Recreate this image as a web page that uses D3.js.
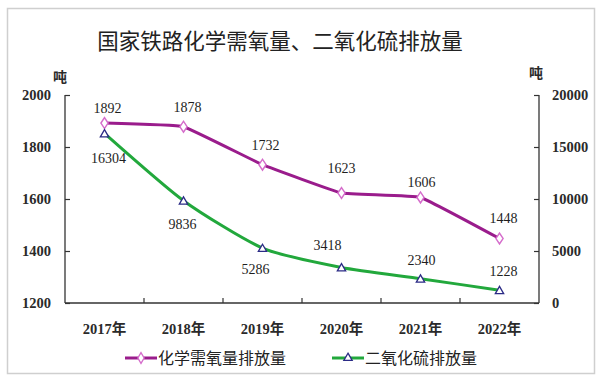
<!DOCTYPE html>
<html><head><meta charset="utf-8">
<script src="https://cdn.jsdelivr.net/npm/d3@7"></script>
<style>
html,body{margin:0;padding:0;background:#fff;}
svg{display:block;}
</style>
</head><body>
<svg id="chart" width="600" height="380"></svg>
<script>
const title = "国家铁路化学需氧量、二氧化硫排放量";
const categories = ["2017年","2018年","2019年","2020年","2021年","2022年"];
const codValues = [1892, 1878, 1732, 1623, 1606, 1448];
const so2Values = [16304, 9836, 5286, 3418, 2340, 1228];
const leftTicks = [1200, 1400, 1600, 1800, 2000];
const rightTicks = [0, 5000, 10000, 15000, 20000];
const seriesNames = ["化学需氧量排放量", "二氧化硫排放量"];
const unitLabel = "吨";
// label offsets (px) relative to each point
const codLabelOffset = [[3,-15],[4,-20],[3,-20],[0,-25],[1,-15],[4,-21]];
const so2LabelOffset = [[4,25],[-1,23],[-7,21],[-14,-22],[1,-19],[4,-19]];

const svg = d3.select("#chart");
const m = {left:65, right:539, top:95, bottom:303};

svg.append("rect").attr("x",7.5).attr("y",8.5).attr("width",587).attr("height",365)
  .attr("fill","#fff").attr("stroke","#cfcfcf").attr("stroke-width",1.5);

const x = d3.scaleBand().domain(categories).range([m.left, m.right]).padding(0);
const yL = d3.scaleLinear().domain([1200,2000]).range([m.bottom, m.top]);
const yR = d3.scaleLinear().domain([0,20000]).range([m.bottom, m.top]);

const numFont = "'Liberation Serif','Times New Roman','Noto Sans CJK SC',serif";
const cjkFont = "'Noto Sans CJK SC','Noto Sans',sans-serif";

svg.append("text").attr("x",280).attr("y",49).attr("text-anchor","middle")
  .attr("font-family",cjkFont).attr("font-size",21.5).attr("fill","#222").text(title);

const axL = d3.axisLeft(yL).tickValues(leftTicks).tickSize(-5).tickPadding(14).tickFormat(d3.format("d"));
const gL = svg.append("g").attr("transform",`translate(${m.left},0)`).call(axL);
const axR = d3.axisRight(yR).tickValues(rightTicks).tickSize(-5).tickPadding(13).tickFormat(d3.format("d"));
const gR = svg.append("g").attr("transform",`translate(${m.right},0)`).call(axR);
const axB = d3.axisBottom(x).tickValues([]).tickSizeOuter(0);
const gB = svg.append("g").attr("transform",`translate(0,${m.bottom})`).call(axB);
gB.selectAll("line.bt").data(categories.slice(1)).enter().append("line").attr("class","bt")
  .attr("x1",d=>x(d)).attr("x2",d=>x(d)).attr("y1",0).attr("y2",-5).attr("stroke","#333").attr("stroke-width",1.2);
gB.selectAll("text.cat").data(categories).enter().append("text").attr("class","cat")
  .attr("x",d=>x(d)+x.bandwidth()/2).attr("y",31).attr("text-anchor","middle")
  .attr("font-family",numFont).attr("font-size",14.5).attr("font-weight","bold").attr("fill","#2a2a2a").text(d=>d);

[gL,gR,gB].forEach(g=>{
  g.select(".domain").attr("stroke","#333").attr("stroke-width",1.3);
  g.selectAll(".tick line").attr("stroke","#333").attr("stroke-width",1.2);
  g.selectAll(".tick text").attr("font-family",numFont).attr("font-size",14.5)
    .attr("font-weight","bold").attr("fill","#2a2a2a");
});
gL.select(".domain").attr("d",`M0,${m.top}V${m.bottom}`);
gR.select(".domain").attr("d",`M0,${m.top}V${m.bottom}`);
gB.select(".domain").attr("d",`M${m.left},0H${m.right}`);

svg.append("text").attr("x",60).attr("y",82).attr("text-anchor","middle")
  .attr("font-family",cjkFont).attr("font-size",14).attr("font-weight","bold").attr("fill","#2a2a2a").text(unitLabel);
svg.append("text").attr("x",536).attr("y",78).attr("text-anchor","middle")
  .attr("font-family",cjkFont).attr("font-size",14).attr("font-weight","bold").attr("fill","#2a2a2a").text(unitLabel);

const cx = d => x(d)+x.bandwidth()/2;
const purple = "#9a1c8c", pink = "#d56ccb", green = "#22a83c", navy = "#2b2b86";

const lineCod = d3.line().x((d,i)=>cx(categories[i])).y(d=>yL(d)).curve(d3.curveCardinal.tension(0.75));
const lineSo2 = d3.line().x((d,i)=>cx(categories[i])).y(d=>yR(d)).curve(d3.curveCardinal.tension(0.35));

svg.append("path").datum(so2Values).attr("d",lineSo2).attr("fill","none").attr("stroke",green).attr("stroke-width",3);
svg.append("path").datum(codValues).attr("d",lineCod).attr("fill","none").attr("stroke",purple).attr("stroke-width",3);

const diamond = d3.symbol().type(d3.symbolDiamond).size(34);
const triangle = d3.symbol().type(d3.symbolTriangle).size(30);

svg.selectAll("path.dm").data(codValues).enter().append("path").attr("class","dm")
  .attr("d",diamond).attr("transform",(d,i)=>`translate(${cx(categories[i])},${yL(d)}) scale(1.15,1)`)
  .attr("fill","#fff").attr("stroke",pink).attr("stroke-width",1.3);
svg.selectAll("path.tr").data(so2Values).enter().append("path").attr("class","tr")
  .attr("d",triangle).attr("transform",(d,i)=>`translate(${cx(categories[i])},${yR(d)+1})`)
  .attr("fill","#fff").attr("stroke",navy).attr("stroke-width",1.3);

svg.selectAll("text.lc").data(codValues).enter().append("text").attr("class","lc")
  .attr("x",(d,i)=>cx(categories[i])+codLabelOffset[i][0]).attr("y",(d,i)=>yL(d)+codLabelOffset[i][1]+5)
  .attr("text-anchor","middle").attr("font-family",numFont).attr("font-size",14).attr("fill","#1e1e1e").text(d=>d);
svg.selectAll("text.ls").data(so2Values).enter().append("text").attr("class","ls")
  .attr("x",(d,i)=>cx(categories[i])+so2LabelOffset[i][0]).attr("y",(d,i)=>yR(d)+so2LabelOffset[i][1]+5)
  .attr("text-anchor","middle").attr("font-family",numFont).attr("font-size",14).attr("fill","#1e1e1e").text(d=>d);

const leg = [
  {name:seriesNames[0], x:125, color:purple, mk:diamond, mkc:pink},
  {name:seriesNames[1], x:332, color:green, mk:triangle, mkc:navy}
];
leg.forEach(l=>{
  const g = svg.append("g").attr("transform",`translate(${l.x},358)`);
  g.append("line").attr("x1",0).attr("x2",32).attr("y1",0).attr("y2",0).attr("stroke",l.color).attr("stroke-width",3);
  g.append("path").attr("d",l.mk).attr("transform","translate(16,0)").attr("fill","#fff").attr("stroke",l.mkc).attr("stroke-width",1.3);
  g.append("text").attr("x",33).attr("y",6).attr("font-family",cjkFont).attr("font-size",16).attr("fill","#222").text(l.name);
});
</script>
</body></html>
